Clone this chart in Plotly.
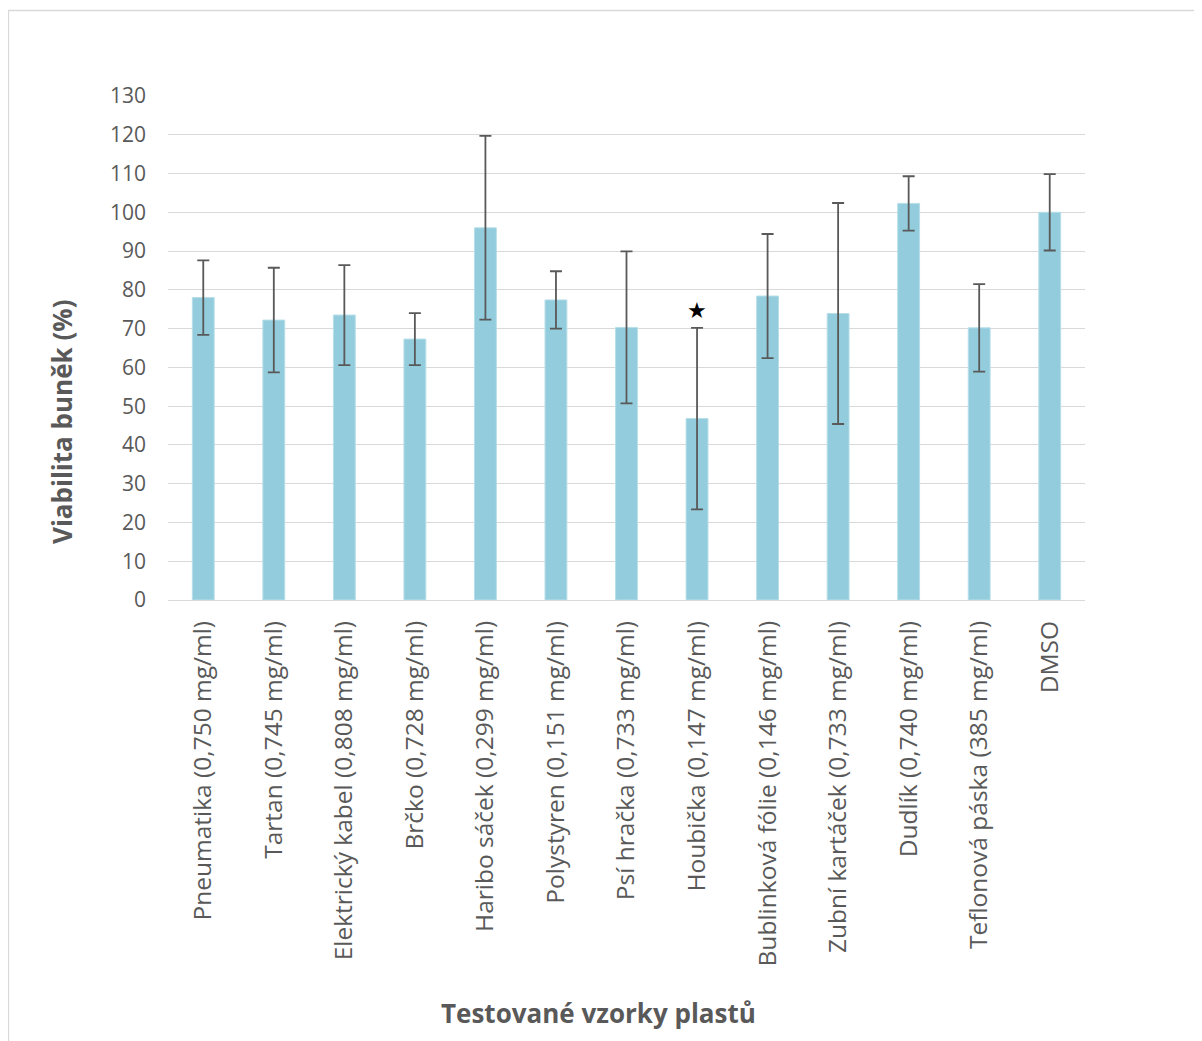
import plotly.graph_objects as go

categories = [
    "Pneumatika (0,750 mg/ml)",
    "Tartan (0,745 mg/ml)",
    "Elektrický kabel (0,808 mg/ml)",
    "Brčko (0,728 mg/ml)",
    "Haribo sáček (0,299 mg/ml)",
    "Polystyren (0,151 mg/ml)",
    "Psí hračka (0,733 mg/ml)",
    "Houbička (0,147 mg/ml)",
    "Bublinková fólie (0,146 mg/ml)",
    "Zubní kartáček (0,733 mg/ml)",
    "Dudlík (0,740 mg/ml)",
    "Teflonová páska (385 mg/ml)",
    "DMSO",
]
viability = [78.0, 72.2, 73.5, 67.3, 96.0, 77.4, 70.3, 46.8, 78.4, 73.9, 102.3, 70.2, 100.0]
errors = [9.6, 13.5, 12.9, 6.7, 23.7, 7.4, 19.6, 23.4, 16.0, 28.5, 7.0, 11.3, 9.85]
tick_vals = list(range(0, 131, 10))

x_title = "Testované vzorky plastů"
y_title = "Viabilita buněk (%)"

star_category = "Houbička (0,147 mg/ml)"
star_y = 74.8

# page body adds an 8px offset; compensate
OFF = 8
W, H = 1202 - OFF, 1041 - OFF
L, T = 168 - OFF, 96 - OFF
R = 1202 - 1085
B = H - T - 504

pw, ph = W - L - R, H - T - B
def px(xp):
    return (xp - OFF - L) / pw
def py(yp):
    return (H - B - (yp - OFF)) / ph

fig = go.Figure()
fig.add_trace(go.Bar(
    x=categories,
    y=viability,
    width=0.31,
    marker=dict(color="#93CDDD", line=dict(color="#B7DEE8", width=1)),
    error_y=dict(type="data", array=errors, visible=True,
                 color="#595959", thickness=1.8, width=6),
))

fig.add_annotation(x=star_category, y=star_y, text="★", showarrow=False,
                   font=dict(size=22, color="black", family="DejaVu Sans"),
                   xref="x", yref="y")

# axis titles
fig.add_annotation(x=px(598), y=py(1013), xref="paper", yref="paper",
                   text="<b>" + x_title + "</b>", showarrow=False,
                   xanchor="center", yanchor="middle",
                   font=dict(size=26, color="#595959", family="Open Sans"))
fig.add_annotation(x=px(62), y=py(422), xref="paper", yref="paper",
                   text="<b>" + y_title + "</b>", showarrow=False, textangle=-90,
                   xanchor="center", yanchor="middle",
                   font=dict(size=26, color="#595959", family="Open Sans"))

fig.add_shape(type="rect", xref="paper", yref="paper",
              x0=px(8.5), x1=px(1199.5), y0=py(1060), y1=py(10.5),
              line=dict(color="#D9D9D9", width=1.3), fillcolor="rgba(0,0,0,0)",
              layer="below")

fig.update_layout(
    width=W, height=H,
    margin=dict(l=L, r=R, t=T, b=B),
    paper_bgcolor="white", plot_bgcolor="white",
    showlegend=False,
    font=dict(family="Open Sans", color="#595959"),
    xaxis=dict(
        tickangle=-90, tickfont=dict(size=24.5, color="#595959", family="Open Sans"),
        showgrid=False, showline=False, zeroline=False,
        ticklabelstandoff=15,
        automargin=False,
    ),
    yaxis=dict(
        range=[0, 130], tickvals=tick_vals,
        tickfont=dict(size=21, color="#595959", family="Open Sans"),
        showgrid=True, gridcolor="#D9D9D9", gridwidth=1.3,
        zeroline=True, zerolinecolor="#D9D9D9", zerolinewidth=1.3,
        showline=False, ticklabelstandoff=21,
        automargin=False,
    ),
)

fig.write_html("out.html")
